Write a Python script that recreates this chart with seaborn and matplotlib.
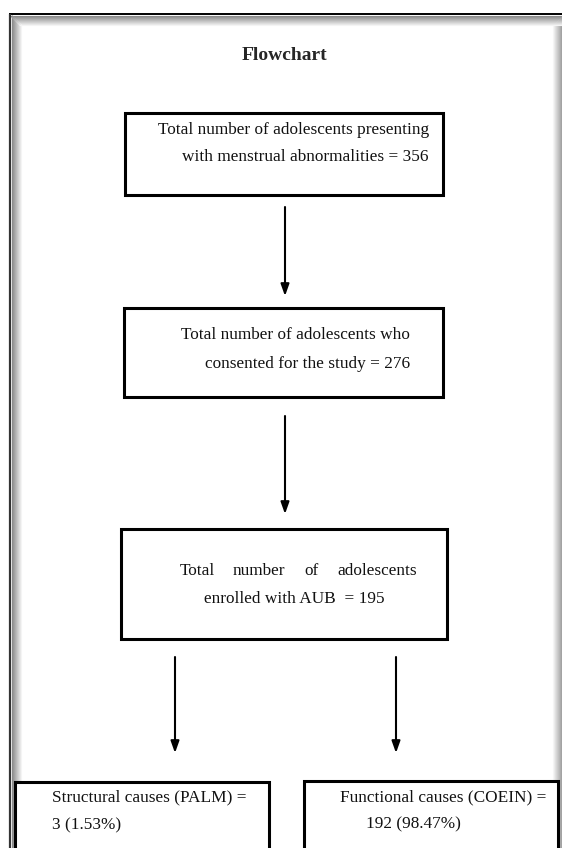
import matplotlib
matplotlib.use("Agg")
import matplotlib.pyplot as plt
import matplotlib.patches as patches
import seaborn as sns

# flowchart content
title = "Flowchart"
total_presenting = 356
total_consented = 276
total_enrolled = 195
cause_groups = ["Structural causes (PALM)", "Functional causes (COEIN)"]
cause_counts = [3, 192]
cause_pcts = ["1.53%", "98.47%"]

sns.set_style("white")
plt.rcParams['font.family'] = ['Liberation Serif', 'DejaVu Serif']

W, H = 562, 848
fig = plt.figure(figsize=(W / 100, H / 100), dpi=100)
ax = fig.add_axes([0, 0, 1, 1])
ax.set_xlim(0, W)
ax.set_ylim(H, 0)
ax.axis('off')

# outer frame with soft shadow
for i in range(10):
    g = 0.55 + 0.045 * i
    ax.plot([10 + i, W], [15.5 + i, 15.5 + i], color=str(min(g, 1)), lw=0.8, solid_capstyle='butt')
    ax.plot([11.5 + i, 11.5 + i], [15 + i, H], color=str(min(g, 1)), lw=0.8, solid_capstyle='butt')
    ax.plot([W - i - 0.5, W - i - 0.5], [16 + i, H], color=str(min(0.6 + 0.04 * i, 1)), lw=0.8, solid_capstyle='butt')
ax.plot([9, W], [14, 14], color='black', lw=1.4, solid_capstyle='butt')
ax.plot([9.5, 9.5], [14, H], color='#333333', lw=1.6, solid_capstyle='butt')


def box(x0, y0, x1, y1):
    ax.add_patch(patches.Rectangle((x0, y0), x1 - x0, y1 - y0, fill=True,
                                   facecolor='white', edgecolor='black', lw=2.2, zorder=3))


def arrow(x, y0, y1):
    ax.annotate('', xy=(x, y1), xytext=(x, y0),
                arrowprops=dict(arrowstyle='-|>,head_length=0.7,head_width=0.25',
                                color='black', lw=1.5, mutation_scale=10,
                                shrinkA=0, shrinkB=0), zorder=4)


fs = 12.4
txt = dict(fontsize=fs, color='#111111', va='center', zorder=5)

ax.text(284.5, 55, title, fontsize=14, fontweight='bold', ha='center', va='center')

# box 1
box(125, 113, 443, 195)
ax.text(429, 130, "Total number of adolescents presenting", ha='right', **txt)
ax.text(429, 157, f"with menstrual abnormalities = {total_presenting}", ha='right', **txt)
arrow(285, 207, 296)

# box 2
box(124, 308, 443, 397)
ax.text(410, 335, "Total number of adolescents who", ha='right', **txt)
ax.text(410, 364, f"consented for the study = {total_consented}", ha='right', **txt)
arrow(285, 416, 514)

# box 3 (justified first line)
box(121, 529, 447, 639)
for word, x in zip(["Total", "number", "of", "adolescents"], [180, 233, 304, 337]):
    ax.text(x, 571, word, ha='left', **txt)
ax.text(204, 599, f"enrolled with AUB  = {total_enrolled}", ha='left', **txt)
arrow(175, 657, 753)
arrow(396, 657, 753)

# bottom boxes
box(15, 782, 269, 870)
ax.text(52, 797, f"{cause_groups[0]} =", ha='left', **txt)
ax.text(52, 825, f"{cause_counts[0]} ({cause_pcts[0]})", ha='left', **txt)

box(304, 781, 558, 870)
ax.text(340, 797, f"{cause_groups[1]} =", ha='left', **txt)
ax.text(366, 824, f"{cause_counts[1]} ({cause_pcts[1]})", ha='left', **txt)

fig.savefig("out.png", dpi=100)
